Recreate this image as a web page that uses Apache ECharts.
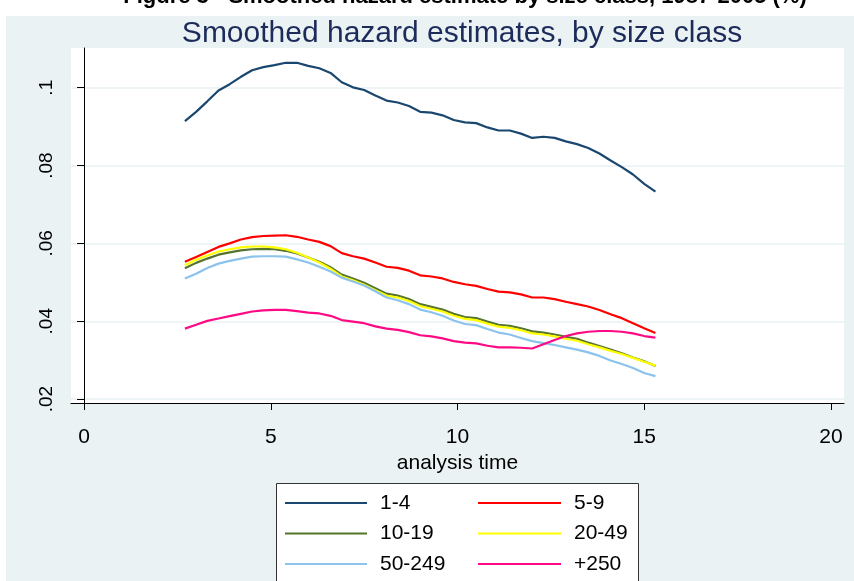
<!DOCTYPE html>
<html><head><meta charset="utf-8">
<script src="https://cdn.jsdelivr.net/npm/echarts@6/dist/echarts.min.js"></script>
<style>html,body{margin:0;padding:0;background:#fff}#c{width:854px;height:581px}</style>
</head><body><div id="c"></div>
<script>
const times = [2.7,3.0,3.3,3.6,3.9,4.2,4.5,4.8,5.1,5.4,5.7,6.0,6.3,6.6,6.9,7.2,7.5,7.8,8.1,8.4,8.7,9.0,9.3,9.6,9.9,10.2,10.5,10.8,11.1,11.4,11.7,12.0,12.3,12.6,12.9,13.2,13.5,13.8,14.1,14.4,14.7,15.0,15.3];
const size1_4 = [0.0914,0.0938,0.0965,0.0993,0.1009,0.1028,0.1045,0.1053,0.1058,0.1064,0.1064,0.1056,0.1050,0.1038,0.1014,0.1001,0.0994,0.0980,0.0967,0.0962,0.0953,0.0938,0.0936,0.0929,0.0917,0.0911,0.0909,0.0898,0.0890,0.0890,0.0882,0.0871,0.0874,0.0871,0.0862,0.0855,0.0845,0.0831,0.0813,0.0796,0.0777,0.0753,0.0733];
const size5_9 = [0.0553,0.0565,0.0578,0.0591,0.0600,0.0610,0.0616,0.0619,0.0620,0.0621,0.0617,0.0610,0.0604,0.0593,0.0575,0.0567,0.0561,0.0551,0.0540,0.0537,0.0530,0.0518,0.0515,0.0510,0.0501,0.0495,0.0491,0.0483,0.0476,0.0474,0.0469,0.0461,0.0461,0.0457,0.0450,0.0444,0.0438,0.0429,0.0418,0.0408,0.0395,0.0382,0.0370];
const size10_19 = [0.0536,0.0550,0.0561,0.0571,0.0577,0.0582,0.0585,0.0586,0.0585,0.0581,0.0574,0.0564,0.0553,0.0539,0.0520,0.0510,0.0499,0.0485,0.0471,0.0466,0.0457,0.0444,0.0437,0.0430,0.0419,0.0411,0.0408,0.0399,0.0391,0.0388,0.0382,0.0374,0.0371,0.0366,0.0360,0.0355,0.0345,0.0336,0.0327,0.0318,0.0307,0.0297,0.0285];
const size20_49 = [0.0544,0.0558,0.0569,0.0579,0.0585,0.0590,0.0592,0.0592,0.0590,0.0585,0.0576,0.0564,0.0551,0.0535,0.0515,0.0505,0.0494,0.0480,0.0466,0.0461,0.0452,0.0439,0.0432,0.0425,0.0414,0.0406,0.0403,0.0394,0.0386,0.0383,0.0377,0.0369,0.0366,0.0361,0.0355,0.0350,0.0341,0.0333,0.0324,0.0316,0.0306,0.0296,0.0286];
const size50_249 = [0.0510,0.0522,0.0537,0.0548,0.0555,0.0561,0.0566,0.0567,0.0567,0.0566,0.0559,0.0551,0.0540,0.0528,0.0512,0.0502,0.0492,0.0477,0.0461,0.0454,0.0444,0.0430,0.0423,0.0414,0.0402,0.0393,0.0390,0.0380,0.0371,0.0366,0.0357,0.0349,0.0344,0.0339,0.0333,0.0327,0.0320,0.0311,0.0299,0.0290,0.0280,0.0267,0.0259];
const size250plus = [0.0381,0.0391,0.0401,0.0407,0.0413,0.0419,0.0425,0.0428,0.0429,0.0429,0.0426,0.0422,0.0420,0.0414,0.0403,0.0399,0.0395,0.0387,0.0381,0.0378,0.0372,0.0364,0.0361,0.0356,0.0349,0.0345,0.0343,0.0337,0.0333,0.0333,0.0332,0.0330,0.0341,0.0352,0.0362,0.0369,0.0373,0.0375,0.0375,0.0373,0.0369,0.0362,0.0358];
const seriesNames = ['1-4','5-9','10-19','20-49','50-249','+250'];
const seriesColors = ['#1A476F','#FF0000','#55752F','#FFFF00','#8BC3EC','#FF0A84'];
const xTicks = [0,5,10,15,20];
const yTicks = [0.02,0.04,0.06,0.08,0.1];
const yTickLabels = ['.02','.04','.06','.08','.1'];

const allSeries = [size1_4,size5_9,size10_19,size20_49,size50_249,size250plus];
const FONT = 'Liberation Sans, Arial, sans-serif';
const chart = echarts.init(document.getElementById('c'));
chart.setOption({
  animation: false,
  backgroundColor: '#ffffff',
  textStyle: {fontFamily: FONT},
  title: {
    text: 'Smoothed hazard estimates, by size class',
    left: 457, top: 14, textAlign: 'center',
    textStyle: {fontSize: 30, fontWeight: 'normal', color: '#1D2B5B', fontFamily: FONT}
  },
  graphic: [
    {type: 'rect', z: -10, silent: true, shape: {x: 6, y: 16, width: 848, height: 565}, style: {fill: '#EAF2F3'}},
    {type: 'rect', z: 3, silent: true, shape: {x: 276.5, y: 483.5, width: 362, height: 110}, style: {fill: '#ffffff', stroke: '#333333', lineWidth: 1}},
    {type: 'text', z: 5, silent: true, x: 465, y: 8, style: {text: 'Figure 3 - Smoothed hazard estimate by size class, 1987-2005 (%)', font: 'bold 22px ' + FONT, fill: '#000', align: 'center', verticalAlign: 'bottom'}}
  ],
  grid: {left: 71, right: 10, top: 48, bottom: 178, show: true, backgroundColor: '#ffffff', borderWidth: 0},
  xAxis: {
    type: 'value', min: -0.35, max: 20.35,
    name: 'analysis time', nameLocation: 'middle', nameGap: 47,
    nameTextStyle: {fontSize: 21, color: '#000', fontFamily: FONT},
    axisLine: {show: true, lineStyle: {color: '#000', width: 1}},
    axisTick: {show: true, length: 7, customValues: xTicks, lineStyle: {color: '#000'}},
    axisLabel: {customValues: xTicks, fontSize: 21, color: '#000', margin: 24},
    splitLine: {show: false}
  },
  yAxis: {
    type: 'value', min: 0.019, max: 0.1102,
    axisLine: {show: true, lineStyle: {color: '#000', width: 1}},
    axisTick: {show: true, length: 7, customValues: yTicks, lineStyle: {color: '#000'}},
    axisLabel: {customValues: yTicks, rotate: 90, fontSize: 19, color: '#000', margin: 15,
      formatter: function (v) { const i = yTicks.findIndex(t => Math.abs(t - v) < 1e-9); return i >= 0 ? yTickLabels[i] : ''; }},
    splitLine: {show: true, lineStyle: {color: '#EAF2F3', width: 1.5}}
  },
  legend: [
    {orient: 'vertical', left: 285, top: 491, z: 4, data: ['1-4','10-19','50-249'], icon: 'rect', itemWidth: 82, itemHeight: 2, itemGap: 6.5, padding: 0,
      textStyle: {fontSize: 21, color: '#000', lineHeight: 24, padding: [0,0,0,8], fontFamily: FONT}},
    {orient: 'vertical', left: 478, top: 491, z: 4, data: ['5-9','20-49','+250'], icon: 'rect', itemWidth: 83, itemHeight: 2, itemGap: 6.5, padding: 0,
      textStyle: {fontSize: 21, color: '#000', lineHeight: 24, padding: [0,0,0,8], fontFamily: FONT}}
  ],
  series: allSeries.map((vals, k) => ({
    name: seriesNames[k], type: 'line', symbol: 'none', showSymbol: false,
    color: seriesColors[k],
    lineStyle: {width: 2.2, color: seriesColors[k]},
    data: times.map((t, i) => [t, vals[i]])
  }))
});
</script></body></html>
